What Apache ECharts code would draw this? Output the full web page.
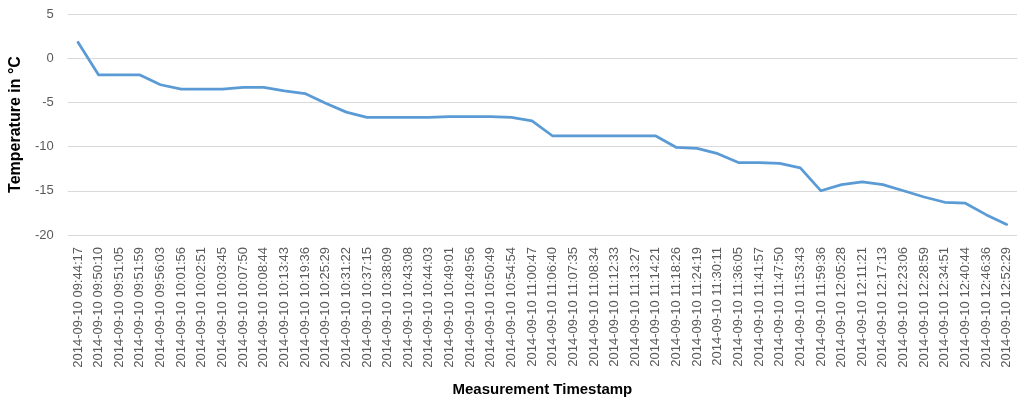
<!DOCTYPE html>
<html>
<head>
<meta charset="utf-8">
<script src="https://cdn.jsdelivr.net/npm/echarts@6/dist/echarts.min.js"></script>
<style>html,body{margin:0;padding:0;background:#fff}#c{width:1024px;height:402px}</style>
</head>
<body>
<div id="c"></div>
<script>
const timestamps = [
  "2014-09-10 09:44:17","2014-09-10 09:50:10","2014-09-10 09:51:05","2014-09-10 09:51:59",
  "2014-09-10 09:56:03","2014-09-10 10:01:56","2014-09-10 10:02:51","2014-09-10 10:03:45",
  "2014-09-10 10:07:50","2014-09-10 10:08:44","2014-09-10 10:13:43","2014-09-10 10:19:36",
  "2014-09-10 10:25:29","2014-09-10 10:31:22","2014-09-10 10:37:15","2014-09-10 10:38:09",
  "2014-09-10 10:43:08","2014-09-10 10:44:03","2014-09-10 10:49:01","2014-09-10 10:49:56",
  "2014-09-10 10:50:49","2014-09-10 10:54:54","2014-09-10 11:00:47","2014-09-10 11:06:40",
  "2014-09-10 11:07:35","2014-09-10 11:08:34","2014-09-10 11:12:33","2014-09-10 11:13:27",
  "2014-09-10 11:14:21","2014-09-10 11:18:26","2014-09-10 11:24:19","2014-09-10 11:30:11",
  "2014-09-10 11:36:05","2014-09-10 11:41:57","2014-09-10 11:47:50","2014-09-10 11:53:43",
  "2014-09-10 11:59:36","2014-09-10 12:05:28","2014-09-10 12:11:21","2014-09-10 12:17:13",
  "2014-09-10 12:23:06","2014-09-10 12:28:59","2014-09-10 12:34:51","2014-09-10 12:40:44",
  "2014-09-10 12:46:36","2014-09-10 12:52:29"
];
const temperatures = [
  1.8, -1.9, -1.9, -1.9, -3.0, -3.5, -3.5, -3.5, -3.3, -3.3, -3.7, -4.0,
  -5.1, -6.1, -6.7, -6.7, -6.7, -6.7, -6.6, -6.6, -6.6, -6.7, -7.1, -8.8,
  -8.8, -8.8, -8.8, -8.8, -8.8, -10.1, -10.2, -10.8, -11.8, -11.8, -11.9, -12.4,
  -15.0, -14.3, -14.0, -14.3, -15.0, -15.7, -16.3, -16.4, -17.7, -18.8
];
const yMin = -20, yMax = 5, yStep = 5;
const xTitle = "Measurement Timestamp";
const yTitle = "Temperature in °C";

const font = "'Liberation Sans', Arial, sans-serif";
const chart = echarts.init(document.getElementById('c'), null, {renderer: 'canvas'});
chart.setOption({
  animation: false,
  backgroundColor: '#ffffff',
  grid: {left: 62, right: 7, top: 14, bottom: 161, containLabel: false},
  xAxis: {
    type: 'category',
    data: timestamps,
    boundaryGap: true,
    name: xTitle,
    nameLocation: 'middle',
    nameGap: 147,
    nameTextStyle: {fontFamily: font, fontWeight: 'bold', fontSize: 15, color: '#000'},
    axisLine: {show: true, lineStyle: {color: '#d9d9d9', width: 1}},
    axisTick: {show: false},
    axisLabel: {rotate: 90, interval: 0, fontFamily: font, fontSize: 13, color: '#595959', margin: 12},
    splitLine: {show: false}
  },
  yAxis: {
    type: 'value',
    min: yMin, max: yMax, interval: yStep,
    name: yTitle,
    nameLocation: 'middle',
    nameGap: 42,
    nameRotate: 90,
    nameTextStyle: {fontFamily: font, fontWeight: 'bold', fontSize: 16, color: '#000'},
    axisLine: {show: false},
    axisTick: {show: false},
    axisLabel: {fontFamily: font, fontSize: 13, color: '#595959', margin: 14},
    splitLine: {show: true, lineStyle: {color: '#d9d9d9', width: 1}}
  },
  series: [{
    type: 'line',
    data: temperatures,
    symbol: 'none',
    smooth: false,
    lineStyle: {color: '#5b9bd5', width: 2.75, cap: 'round', join: 'round'}
  }]
});
</script>
</body>
</html>
